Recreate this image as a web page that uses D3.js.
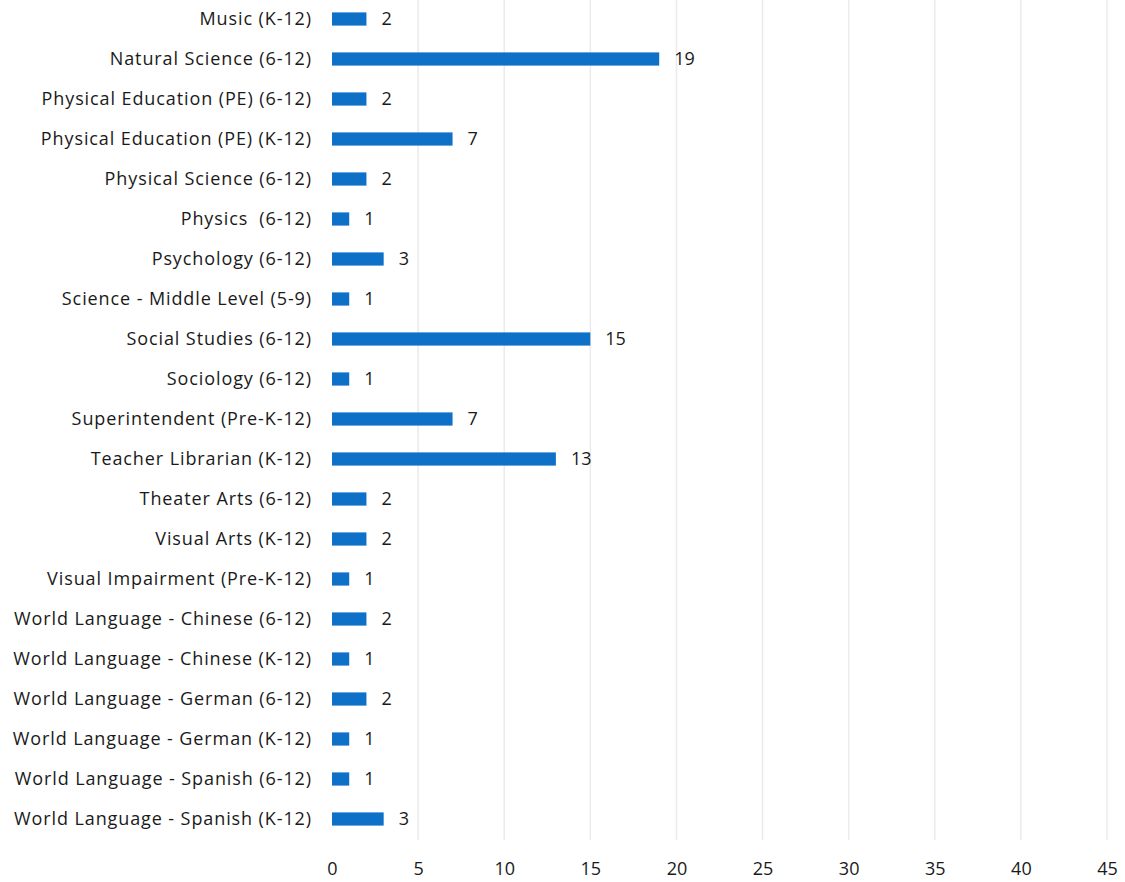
<!DOCTYPE html>
<html>
<head>
<meta charset="utf-8">
<script src="https://cdn.jsdelivr.net/npm/d3@7"></script>
<style>
  body { margin: 0; background: #fff; }
  text { font-family: "Open Sans", "Liberation Sans", sans-serif; fill: #1a1a1a; white-space: pre; }
</style>
</head>
<body>
<div id="container"></div>
<script>
// categories, top to bottom
const subjects = [
  "Music (K-12)",
  "Natural Science (6-12)",
  "Physical Education (PE) (6-12)",
  "Physical Education (PE) (K-12)",
  "Physical Science (6-12)",
  "Physics  (6-12)",
  "Psychology (6-12)",
  "Science - Middle Level (5-9)",
  "Social Studies (6-12)",
  "Sociology (6-12)",
  "Superintendent (Pre-K-12)",
  "Teacher Librarian (K-12)",
  "Theater Arts (6-12)",
  "Visual Arts (K-12)",
  "Visual Impairment (Pre-K-12)",
  "World Language - Chinese (6-12)",
  "World Language - Chinese (K-12)",
  "World Language - German (6-12)",
  "World Language - German (K-12)",
  "World Language - Spanish (6-12)",
  "World Language - Spanish (K-12)"
];
const counts = [2, 19, 2, 7, 2, 1, 3, 1, 15, 1, 7, 13, 2, 2, 1, 2, 1, 2, 1, 1, 3];
const xTicks = [0, 5, 10, 15, 20, 25, 30, 35, 40, 45];

const width = 1125, height = 882;
const margin = {top: 0, right: 18, bottom: 42, left: 332};

const data = subjects.map((s, i) => ({name: s, value: counts[i]}));

const svg = d3.select("#container")
  .append("svg")
  .attr("width", width)
  .attr("height", height);

const x = d3.scaleLinear()
  .domain([0, 45])
  .range([margin.left, width - margin.right]);

const y = d3.scaleBand()
  .domain(subjects)
  .range([-1, 839])
  .paddingInner(0.67)
  .paddingOuter(0.335);

// faint vertical gridlines
svg.append("g")
  .selectAll("line")
  .data(xTicks.slice(1))
  .join("line")
  .attr("x1", d => x(d))
  .attr("x2", d => x(d))
  .attr("y1", 0)
  .attr("y2", 840)
  .attr("stroke", "#ebebeb")
  .attr("stroke-width", 1.5);

// bars
svg.append("g")
  .selectAll("rect")
  .data(data)
  .join("rect")
  .attr("x", x(0))
  .attr("y", d => y(d.name))
  .attr("width", d => x(d.value) - x(0))
  .attr("height", y.bandwidth())
  .attr("fill", "#0f70c8");

// value labels
svg.append("g")
  .selectAll("text")
  .data(data)
  .join("text")
  .attr("x", d => x(d.value) + 15)
  .attr("y", d => y(d.name) + y.bandwidth() / 2)
  .attr("dy", "0.36em")
  .attr("font-size", 18)
  .text(d => d.value);

// category axis
const yAxis = svg.append("g")
  .attr("transform", `translate(${margin.left - 20},0)`)
  .call(d3.axisLeft(y).tickSize(0).tickPadding(0));
yAxis.select(".domain").remove();
yAxis.selectAll("text")
  .attr("font-size", 18)
  .attr("letter-spacing", 0.9)
  .style("font-family", "'Open Sans', sans-serif")
  .attr("fill", "#1a1a1a");

// value axis
const xAxis = svg.append("g")
  .attr("transform", `translate(0,${height - margin.bottom})`)
  .call(d3.axisBottom(x).tickValues(xTicks).tickSize(0).tickPadding(22));
xAxis.select(".domain").remove();
xAxis.selectAll("text")
  .attr("font-size", 18)
  .style("font-family", "'Open Sans', sans-serif")
  .attr("fill", "#1a1a1a");
</script>
</body>
</html>
